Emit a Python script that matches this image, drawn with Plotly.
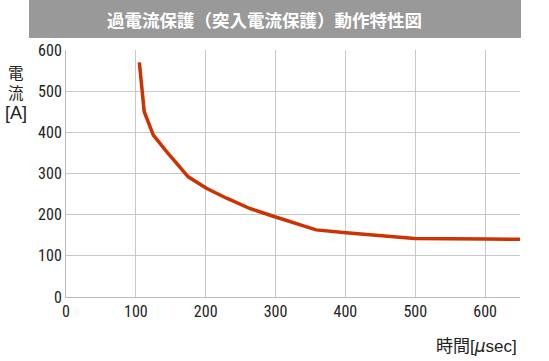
import plotly.graph_objects as go

time_us = [105, 112, 125, 144, 175, 201, 230, 263, 299, 330, 358, 401, 450, 499, 600, 650]
current_a = [570, 450, 393, 353, 292, 264, 240, 215, 195, 178, 163, 156, 150, 142, 141, 140]

title_text = "過電流保護（突入電流保護）動作特性図"
y_title_parts = ["電", "流", "[A]"]
x_title = "時間<span style=\"font-family:Liberation Sans\">[</span><span style=\"font-family:DejaVu Sans\"><i>μ</i></span><span style=\"font-family:Liberation Sans\">sec]</span>"
tick_vals = [0, 100, 200, 300, 400, 500, 600]

W, H = 549, 361
L, R, T, B = 66, 29, 50, 64
pw, ph = W - L - R, H - T - B

def px2x(px):
    return (px - L) / pw

def py2y(py):
    return (H - B - py) / ph

tick_font = dict(family="Liberation Sans Narrow, Roboto Condensed, Arial Narrow, sans-serif", size=16, color="#222")

fig = go.Figure()
fig.add_trace(go.Scatter(x=time_us, y=current_a, mode="lines",
                         line=dict(color="#cc3300", width=3.5), showlegend=False))

annotations = [
    dict(text=title_text, xref="paper", yref="paper", x=px2x(264), y=py2y(19),
         xanchor="center", yanchor="middle", showarrow=False,
         font=dict(family="Noto Sans CJK JP", size=17.5, color="white", weight="bold")),
    dict(text=x_title, xref="paper", yref="paper", x=px2x(519), y=py2y(344),
         xanchor="right", yanchor="middle", showarrow=False,
         font=dict(family="Noto Sans CJK JP", size=17, color="#222")),
]
y_pos = [72, 92, 113]
y_fonts = [dict(family="Noto Sans CJK JP", size=15.5, color="#222"),
           dict(family="Noto Sans CJK JP", size=15.5, color="#222"),
           dict(family="Liberation Sans", size=18, color="#222")]
for s, yp, f in zip(y_title_parts, y_pos, y_fonts):
    annotations.append(dict(text=s, xref="paper", yref="paper", x=px2x(16), y=py2y(yp),
                            xanchor="center", yanchor="middle", showarrow=False, font=f))

fig.update_layout(
    width=W, height=H,
    margin=dict(l=L, r=R, t=T, b=B),
    paper_bgcolor="white", plot_bgcolor="white",
    xaxis=dict(range=[0, 650], tickvals=tick_vals, showgrid=True, gridcolor="#c8c8c8", gridwidth=1,
               showline=True, linecolor="#bbbbbb", linewidth=1, zeroline=False, automargin=False,
               tickfont=tick_font, ticks="", fixedrange=True),
    yaxis=dict(range=[0, 600], tickvals=tick_vals, showgrid=True, gridcolor="#c8c8c8", gridwidth=1,
               showline=True, linecolor="#bbbbbb", linewidth=1, zeroline=False, automargin=False,
               tickfont=tick_font, ticks="", fixedrange=True),
    shapes=[dict(type="rect", xref="paper", yref="paper",
                 x0=px2x(29), x1=px2x(521), y0=py2y(38), y1=py2y(0),
                 fillcolor="#999999", line=dict(width=0), layer="below")],
    annotations=annotations,
)

fig.write_html("out.html", config={"displayModeBar": False},
               post_script="document.body.style.margin='0';document.body.style.overflow='hidden';")
